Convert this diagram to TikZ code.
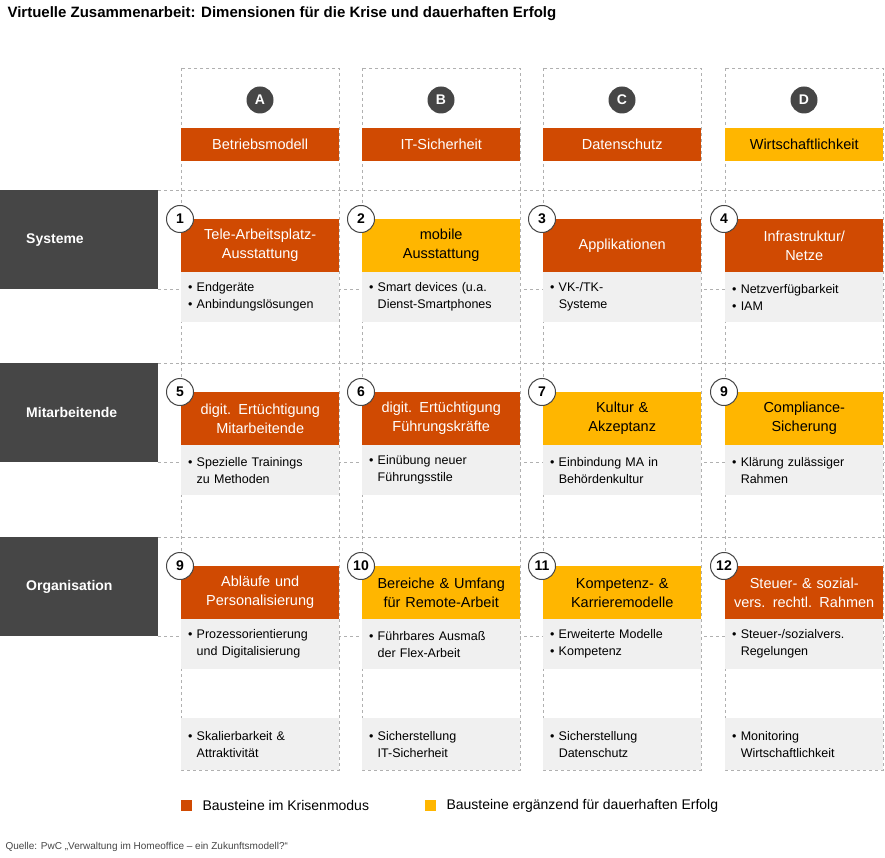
\documentclass[tikz,border=0pt]{standalone}
\usepackage{fontspec}
\setmainfont{Liberation Sans}
\definecolor{pwcor}{HTML}{D04A02}
\definecolor{pwcye}{HTML}{FFB600}
\definecolor{dgray}{HTML}{464646}
\definecolor{lgray}{HTML}{F0F0F0}
\definecolor{dashc}{HTML}{B0B0B0}
\begin{document}
\begin{tikzpicture}[x=1pt,y=-1pt,
 dsh/.style={draw=dashc,dashed,dash pattern=on 3pt off 3pt,line width=0.7pt},
 rowbox/.style={fill=dgray,text=white,font=\bfseries\fontsize{14}{16}\selectfont,anchor=north west,minimum width=158pt,minimum height=99pt,inner sep=0pt,inner xsep=26pt,align=left,text width=106pt},
 cbox/.style={anchor=north west,minimum width=158pt,minimum height=53pt,inner sep=0pt,align=center,text width=150pt,font=\fontsize{14.5}{19}\selectfont},
 orb/.style={cbox,fill=pwcor,text=white},
 yeb/.style={cbox,fill=pwcye,text=black},
 hdr/.style={anchor=north west,minimum width=158pt,minimum height=33pt,inner sep=0pt,font=\fontsize{14.5}{17}\selectfont},
 gbox/.style={fill=lgray,anchor=north west,minimum width=158pt,minimum height=50pt,inner sep=0pt,inner xsep=7pt,align=left,text width=144pt,font=\fontsize{12.5}{17}\selectfont},
 numc/.style={circle,draw=dgray,line width=1pt,fill=white,minimum size=27pt,inner sep=0pt,font=\bfseries\fontsize{14}{16}\selectfont},
 letc/.style={circle,fill=dgray,text=white,minimum size=27pt,inner sep=0pt,font=\bfseries\fontsize{14}{16}\selectfont}]
\useasboundingbox[fill=white] (0,0) rectangle (885,858);
\node[anchor=west,font=\bfseries\fontsize{15}{17}\selectfont] (title) at (4,14) {Virtuelle Zusammenarbeit: Dimensionen für die Krise und dauerhaften Erfolg};
% column frames
\foreach \x/\n in {181/A,362/B,543/C,725/D}{
 \draw[dsh] (\x,68) rectangle (\x+158,770);
}
% horizontal dashed lines
\foreach \y in {190,289,363,462,537,636}{
 \draw[dsh] (158,\y) -- (885,\y);
}
% letters & headers
\node[letc] (lA) at (260,100) {A};
\node[letc] (lB) at (441,100) {B};
\node[letc] (lC) at (622,100) {C};
\node[letc] (lD) at (804,100) {D};
\node[hdr,fill=pwcor,text=white] (hA) at (181,128) {Betriebsmodell};
\node[hdr,fill=pwcor,text=white] (hB) at (362,128) {IT-Sicherheit};
\node[hdr,fill=pwcor,text=white] (hC) at (543,128) {Datenschutz};
\node[hdr,fill=pwcye,text=black] (hD) at (725,128) {Wirtschaftlichkeit};
% rows
\node[rowbox] (r1) at (0,190) {Systeme};
\node[rowbox] (r2) at (0,363) {Mitarbeitende};
\node[rowbox] (r3) at (0,537) {Organisation};
% row 1
\node[orb] (b1) at (181,219) {Tele-Arbeitsplatz-\\Ausstattung};
\node[yeb] (b2) at (362,219) {mobile\\Ausstattung};
\node[orb] (b3) at (543,219) {Applikationen};
\node[orb] (b4) at (725,219) {Infrastruktur/\\Netze};
\node[gbox] (g1) at (181,272) {• Endgeräte\\• Anbindungslösungen};
\node[gbox] (g2) at (362,272) {• Smart devices (u.a.\\\phantom{• }Dienst-Smartphones};
\node[gbox] (g3) at (543,272) {• VK-/TK-\\\phantom{• }Systeme};
\node[gbox] (g4) at (725,272) {• Netzverfügbarkeit\\• IAM};
% row 2
\node[orb] (b5) at (181,392) {digit. Ertüchtigung\\Mitarbeitende};
\node[orb] (b6) at (362,392) {digit. Ertüchtigung\\Führungskräfte};
\node[yeb] (b7) at (543,392) {Kultur \&\\Akzeptanz};
\node[yeb] (b8) at (725,392) {Compliance-\\Sicherung};
\node[gbox] (g5) at (181,445) {• Spezielle Trainings\\\phantom{• }zu Methoden};
\node[gbox] (g6) at (362,445) {• Einübung neuer\\\phantom{• }Führungsstile};
\node[gbox] (g7) at (543,445) {• Einbindung MA in\\\phantom{• }Behördenkultur};
\node[gbox] (g8) at (725,445) {• Klärung zulässiger\\\phantom{• }Rahmen};
% row 3
\node[orb] (b9) at (181,566) {Abläufe und\\Personalisierung};
\node[yeb] (b10) at (362,566) {Bereiche \& Umfang\\für Remote-Arbeit};
\node[yeb] (b11) at (543,566) {Kompetenz- \&\\Karrieremodelle};
\node[orb] (b12) at (725,566) {Steuer- \& sozial-\\vers. rechtl. Rahmen};
\node[gbox] (g9) at (181,619) {• Prozessorientierung\\\phantom{• }und Digitalisierung};
\node[gbox] (g10) at (362,619) {• Führbares Ausmaß\\\phantom{• }der Flex-Arbeit};
\node[gbox] (g11) at (543,619) {• Erweiterte Modelle\\• Kompetenz};
\node[gbox] (g12) at (725,619) {• Steuer-/sozialvers.\\\phantom{• }Regelungen};
% bottom
\node[gbox,minimum height=52pt] (z1) at (181,718) {• Skalierbarkeit \&\\\phantom{• }Attraktivität};
\node[gbox,minimum height=52pt] (z2) at (362,718) {• Sicherstellung\\\phantom{• }IT-Sicherheit};
\node[gbox,minimum height=52pt] (z3) at (543,718) {• Sicherstellung\\\phantom{• }Datenschutz};
\node[gbox,minimum height=52pt] (z4) at (725,718) {• Monitoring\\\phantom{• }Wirtschaftlichkeit};
% number circles
\foreach \cx/\cy/\t/\nm in {180/219/1/n1,361/219/2/n2,542/219/3/n3,724/219/4/n4,
 180/392/5/n5,361/392/6/n6,542/392/7/n7,724/392/9/n8,
 180/566/9/n9,361/566/10/n10,542/566/11/n11,724/566/12/n12}{
 \node[numc] (\nm) at (\cx,\cy) {\t};
}
% legend
\fill[pwcor] (181,800) rectangle (192,811);
\node[anchor=west,font=\fontsize{14}{16}\selectfont] (leg1) at (199,805.5) {Bausteine im Krisenmodus};
\fill[pwcye] (425,800) rectangle (436,811);
\node[anchor=west,font=\fontsize{14}{16}\selectfont] (leg2) at (443,805.5) {Bausteine ergänzend für dauerhaften Erfolg};
\node[anchor=west,font=\fontsize{10}{12}\selectfont,text=dgray] (src) at (2,847) {Quelle: PwC „Verwaltung im Homeoffice – ein Zukunftsmodell?“};
\end{tikzpicture}
\end{document}
